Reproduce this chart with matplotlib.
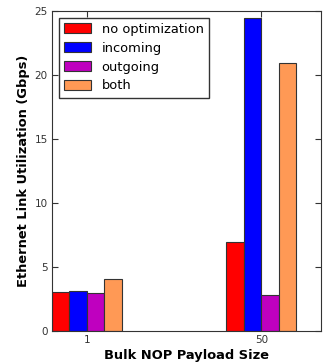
import numpy as np
import matplotlib.pyplot as plt

# data
sizes = ["1", "50"]
series = ["no optimization", "incoming", "outgoing", "both"]
no_opt = [3.05, 6.95]
incoming = [3.1, 24.45]
outgoing = [2.97, 2.78]
both = [4.1, 20.95]
colors = ["#ff0000", "#0000ff", "#bf00bf", "#ff9955"]

fig = plt.figure(figsize=(3.23, 3.62), dpi=100)
ax = fig.add_axes([0.161, 0.0856, 0.833, 0.884])

ind = np.arange(len(sizes))
width = 0.1
for i, (vals, lab) in enumerate(zip([no_opt, incoming, outgoing, both], series)):
    ax.bar(ind - 2 * width + i * width, vals, width, align="edge",
           color=colors[i], edgecolor="#333333", linewidth=0.8, label=lab)

ax.set_xlim(-0.2, 1.343)
ax.set_ylim(0, 25)
ax.set_xticks(ind)
ax.set_xticklabels(sizes)
ax.set_yticks([0, 5, 10, 15, 20, 25])
ax.tick_params(direction="in", top=True, right=True, labelsize=7.5, length=4,
               pad=3, labelcolor="#333333", color="#333333")
for s in ax.spines.values():
    s.set_color("#333333")

ax.set_xlabel("Bulk NOP Payload Size", fontsize=9.4, fontweight="bold", labelpad=3)
ax.set_ylabel("Ethernet Link Utilization (Gbps)", fontsize=9.4, fontweight="bold", labelpad=3)

leg = ax.legend(loc="upper left", fontsize=9.4, fancybox=False, framealpha=1,
                handlelength=2.1, handleheight=0.75, borderaxespad=0.5,
                labelspacing=0.45, borderpad=0.4)
leg.get_frame().set_edgecolor("#333333")

fig.savefig("out.png", dpi=100)
